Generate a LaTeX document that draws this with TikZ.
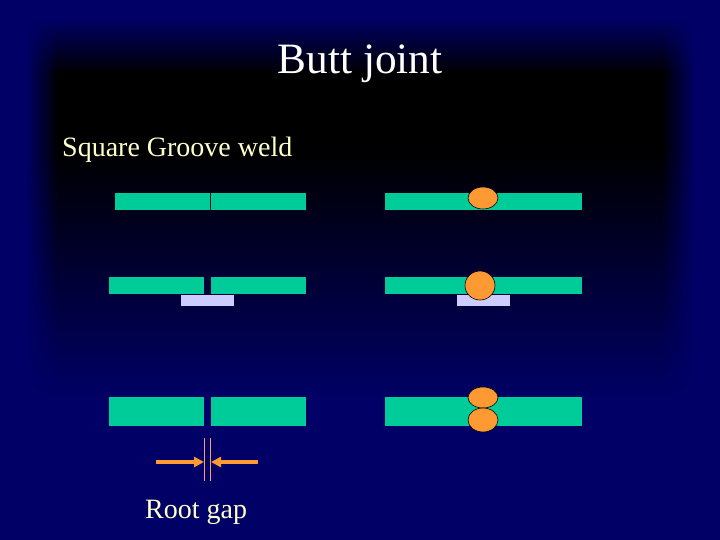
\documentclass[tikz,border=0pt]{standalone}
\usepackage{fontspec}
\setmainfont{Liberation Serif}
\usetikzlibrary{arrows.meta}
\definecolor{navybg}{HTML}{000066}
\definecolor{plate}{HTML}{00CC99}
\definecolor{bead}{HTML}{FF9933}
\definecolor{backing}{HTML}{CCCCFF}
\definecolor{cream}{HTML}{FFFFCC}
\definecolor{gapline}{HTML}{FF9966}
\tikzset{
  plateR/.style={fill=plate,draw=none,inner sep=0pt,outer sep=0pt},
  backR/.style={fill=backing,draw=none,inner sep=0pt,outer sep=0pt,minimum width=53pt,minimum height=11pt},
  weld/.style={draw=black,line width=0.6pt,fill=bead,inner sep=0pt,outer sep=0pt,ellipse,minimum width=30pt},
  gapmark/.style={draw=gapline,line width=0.7pt},
  gaparrow/.style={draw=bead,line width=3.2pt,-{Triangle[length=10pt,width=10pt]},shorten >=0pt},
  lbl/.style={text=cream,font=\fontsize{28}{28}\selectfont,inner sep=0pt,anchor=base west},
}
\usetikzlibrary{shapes.geometric}
\newcommand{\plateat}[5]{\node[plateR,minimum width=#3pt,minimum height=#4pt] (#5) at (#1pt,-#2pt) {};}
\begin{document}
\begin{tikzpicture}[x=1pt,y=1pt]
\useasboundingbox (0,-540) rectangle (720,0);
\fill[navybg] (0,-540) rectangle (720,0);
% background: black panel fading to navy
\foreach \r in {10,12,...,400}{
  \pgfmathsetmacro{\top}{\r<75 ? max(0,(\r-18)/57) : (\r<150 ? 1 : max(0,1-(\r-150)/250))}
  \pgfmathsetmacro{\pct}{100*\top}
  \colorlet{rowc}{black!\pct!navybg}
  \fill[rowc] (58,-\r-1) rectangle (662,-\r+1.4);
  \shade[left color=navybg,right color=rowc,shading angle=90,draw=none] (25,-\r-1) rectangle (58.2,-\r+1.4);
  \shade[left color=rowc,right color=navybg,draw=none] (661.8,-\r-1) rectangle (695,-\r+1.4);
}
% plates
\plateat{162.5}{201.5}{95}{17}{a1}
\plateat{258.5}{201.5}{95}{17}{a2}
\plateat{156.5}{285.5}{95}{17}{b1}
\plateat{258.5}{285.5}{95}{17}{b2}
\plateat{156.5}{411.5}{95}{29}{c1}
\plateat{258.5}{411.5}{95}{29}{c2}
\plateat{483.5}{201.5}{197}{17}{d}
\plateat{483.5}{285.5}{197}{17}{e}
\plateat{483.5}{411.5}{197}{29}{f}
% backing strips
\node[backR] (bk1) at (207.5pt,-300.5pt) {};
\node[backR] (bk2) at (483.5pt,-300.5pt) {};
% welds
\node[weld,minimum height=22pt] (w1) at (483pt,-198pt) {};
\node[weld,minimum height=29pt] (w2) at (480pt,-285.5pt) {};
\node[weld,minimum height=21pt] (w3) at (483pt,-397.5pt) {};
\node[weld,minimum height=24pt] (w4) at (483pt,-420pt) {};
% root gap marks
\coordinate (g1t) at (204.5,-438);
\coordinate (g1b) at (204.5,-481);
\coordinate (g2t) at (210.5,-438);
\coordinate (g2b) at (210.5,-481);
\draw[gapmark] (g1t) -- (g1b);
\draw[gapmark] (g2t) -- (g2b);
\coordinate (al) at (156,-462);
\coordinate (alt) at (204,-462);
\coordinate (ar) at (258,-462);
\coordinate (art) at (211,-462);
\draw[gaparrow] (al) -- (alt);
\draw[gaparrow] (ar) -- (art);
% text
\node[text=white,font=\fontsize{43.3}{43.3}\selectfont,inner sep=0pt,anchor=base] (title) at (360pt,-74pt) {Butt joint};
\node[lbl] (sub) at (62pt,-157pt) {Square Groove weld};
\node[lbl] (gap) at (145pt,-518pt) {Root gap};
\end{tikzpicture}
\end{document}
